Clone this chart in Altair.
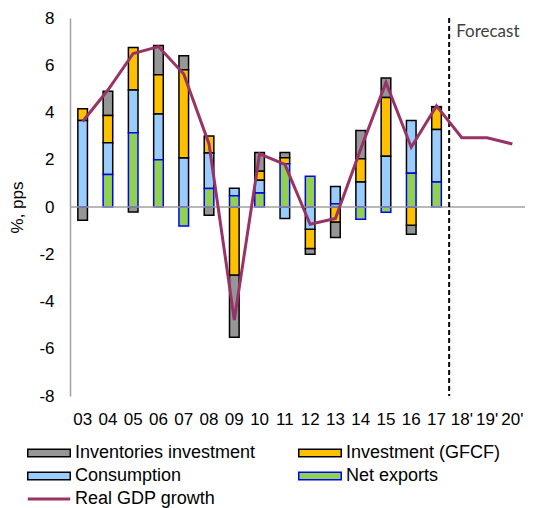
import altair as alt
import pandas as pd

# ---- data ----
years = ["03", "04", "05", "06", "07", "08", "09", "10", "11", "12", "13",
         "14", "15", "16", "17", "18'", "19'", "20'"]
hist_years = years[:15]

net_exports = [0.0, 1.38, 3.14, 2.00, -0.80, 0.78, 0.48, 0.59, 1.83, 1.30, 0.14,
               -0.52, -0.22, 1.43, 1.06]
consumption = [3.66, 1.34, 1.81, 1.94, 2.07, 1.51, 0.31, 0.54, -0.49, -0.94, 0.73,
               1.06, 2.15, 2.23, 2.22]
investment = [0.50, 1.15, 1.80, 1.66, 3.74, 0.72, -2.88, 0.38, 0.25, -0.82, -0.63,
              0.98, 2.49, -0.77, 0.94]
inventories = [-0.56, 1.03, -0.21, 1.24, 0.59, -0.35, -2.63, 0.80, 0.23, -0.24, -0.66,
               1.20, 0.82, -0.38, 0.03]
gdp_growth = [3.62, 4.95, 6.50, 6.79, 5.63, 2.67, -4.78, 2.25, 1.80, -0.73, -0.49,
              2.45, 5.27, 2.53, 4.28, 2.93, 2.93, 2.67]

series_names = ["Inventories investment", "Investment (GFCF)", "Consumption",
                "Net exports", "Real GDP growth"]
fill_colors = ["#969696", "#FFC000", "#99CCFF", "#92D050", "transparent"]
stroke_colors = ["#000000", "#000000", "#000000", "#0000FF", "#993366"]
stack_rank = {"Net exports": 0, "Consumption": 1, "Investment (GFCF)": 2,
              "Inventories investment": 3}
y_ticks = [-8, -6, -4, -2, 0, 2, 4, 6, 8]
forecast_start = ["18'"]
forecast_label = ["Forecast"]

component_values = {
    "Inventories investment": inventories,
    "Investment (GFCF)": investment,
    "Consumption": consumption,
    "Net exports": net_exports,
}
rows = []
for i, yr in enumerate(hist_years):
    for name, vals in component_values.items():
        rows.append({"year": yr, "series": name, "value": vals[i],
                     "rank": stack_rank[name]})
bars_df = pd.DataFrame(rows)
line_df = pd.DataFrame({"year": years, "series": "Real GDP growth", "value": gdp_growth})
fc_df = pd.DataFrame({"year": forecast_start, "label": forecast_label, "top": [8]})

FONT = "Liberation Sans"

x_scale = alt.Scale(domain=years, paddingInner=0, paddingOuter=0)
y_scale = alt.Scale(domain=[-8, 8], nice=False, zero=False)

x_axis = alt.Axis(title=None, domain=False, ticks=False, tickSize=0, grid=False,
                  labelAngle=0, labelFont=FONT, labelFontSize=17, labelColor="black",
                  labelPadding=15, labelOverlap=False)
y_axis = alt.Axis(title="%, pps", values=y_ticks, grid=False, ticks=False, tickSize=0,
                  domainColor="#A0A0A0", domainWidth=1.5,
                  labelExpr="datum.value + ''",
                  labelFont=FONT, labelFontSize=17, labelColor="black", labelPadding=16,
                  titleFont=FONT, titleFontSize=17, titleFontWeight="normal",
                  titleColor="black", titlePadding=12)

rect_path = "M-4.25,-0.75H4.25V0.75H-4.25Z"
line_path = "M-4.25,0H4.25"
legend = alt.Legend(
    title=None, orient="none", legendX=-30, legendY=426, columns=2,
    direction="horizontal",
    symbolType=alt.ExprRef(
        f"datum.value === 'Real GDP growth' ? '{line_path}' : '{rect_path}'"),
    symbolSize=100,
    symbolStrokeWidth=alt.ExprRef("datum.value === 'Real GDP growth' ? 3 : 1.5"),
    labelFont=FONT, labelFontSize=18, labelColor="black", labelLimit=400,
    labelOffset=17, columnPadding=39, rowPadding=5,
)
fill_scale = alt.Scale(domain=series_names, range=fill_colors)
stroke_scale = alt.Scale(domain=series_names, range=stroke_colors)

bars = alt.Chart(bars_df).mark_bar(
    width={"band": 0.38}, strokeWidth=1.5
).encode(
    x=alt.X("year:N", sort=years, scale=x_scale, axis=x_axis),
    y=alt.Y("value:Q", stack="zero", scale=y_scale, axis=y_axis),
    fill=alt.Fill("series:N", scale=fill_scale, legend=legend),
    stroke=alt.Stroke("series:N", scale=stroke_scale, legend=legend),
    order=alt.Order("rank:Q"),
)

zero_rule = alt.Chart(pd.DataFrame({"v": [0]})).mark_rule(
    color="#A0A0A0", strokeWidth=1.5
).encode(y=alt.Y("v:Q", scale=y_scale))

fc_rule = alt.Chart(fc_df).mark_rule(
    color="black", strokeWidth=2, strokeDash=[5, 3]
).encode(x=alt.X("year:N", sort=years, scale=x_scale, bandPosition=0))

fc_text = alt.Chart(fc_df).mark_text(
    align="left", baseline="alphabetic", dx=7, dy=19,
    font="Lato", fontSize=17, color="#404040"
).encode(
    x=alt.X("year:N", sort=years, scale=x_scale, bandPosition=0),
    y=alt.Y("top:Q", scale=y_scale),
    text="label:N",
)

gdp_line = alt.Chart(line_df).mark_line(strokeWidth=3).encode(
    x=alt.X("year:N", sort=years, scale=x_scale),
    y=alt.Y("value:Q", scale=y_scale),
    stroke=alt.Stroke("series:N", scale=stroke_scale, legend=legend),
)

chart = alt.layer(bars, zero_rule, fc_rule, fc_text, gdp_line).properties(
    width=455, height=378,
    autosize=alt.AutoSizeParams(type="none"),
    padding={"left": 62, "top": 10, "right": 0, "bottom": 112},
    background="white",
).configure_view(stroke=None)

chart.save("out.html", embed_options={"renderer": "svg", "actions": False})
